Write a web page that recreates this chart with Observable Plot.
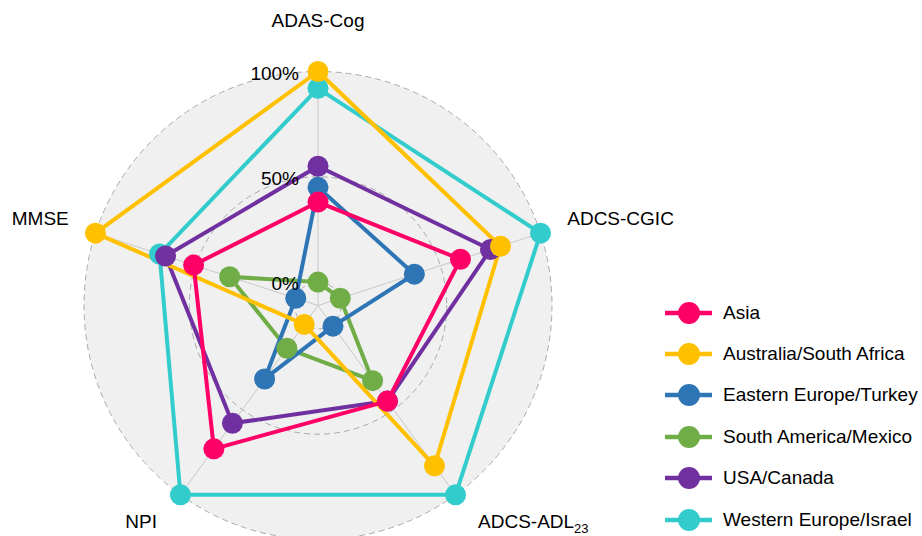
<!DOCTYPE html>
<html>
<head>
<meta charset="utf-8">
<script src="https://cdn.jsdelivr.net/npm/d3@7"></script>
<script src="https://cdn.jsdelivr.net/npm/@observablehq/plot@0.6"></script>
<style>
  body { margin: 0; background: white; font-family: "Liberation Sans", Arial, Helvetica, sans-serif; }
  #wrap { position: relative; width: 922px; height: 536px; }
  #legend { position: absolute; left: 665px; top: 292px; font-size: 19px; color: #000; }
  .row { display: flex; align-items: center; height: 41.4px; }
  .row span { margin-left: 10px; white-space: nowrap; }
</style>
</head>
<body>
<div id="wrap"><div id="legend"></div></div>
<script>
// ---- data ----
const regions = ["Asia", "Australia/South Africa", "Eastern Europe/Turkey", "South America/Mexico", "USA/Canada", "Western Europe/Israel"];
const colors = ["#FF0066", "#FFC000", "#2E75B6", "#70AD47", "#7030A0", "#33CCCC"];
const axes = ["ADAS-Cog", "ADCS-CGIC", "ADCS-ADL23", "NPI", "MMSE"];
const asia          = [0.38, 0.60, 0.45, 0.73, 0.51];
const australia     = [1.00, 0.80, 0.83, 0.00, 1.00];
const easternEurope = [0.45, 0.37, 0.01, 0.32, 0.00];
const southAmerica  = [0.00, 0.00, 0.33, 0.14, 0.33];
const usaCanada     = [0.55, 0.75, 0.45, 0.58, 0.65];
const westernEurope = [0.92, 1.00, 1.00, 1.00, 0.68];
const gridValues = [0, 0.5, 1];
const gridLabels = ["0%", "50%", "100%"];

const seriesValues = [asia, australia, easternEurope, southAmerica, usaCanada, westernEurope];

// ---- layout ----
const W = 922, H = 536;
const S = 234;          // px per unit radius
const CX = 317.5, CY = 305;
const rad = v => 0.1 + 0.9 * v;   // radial offset like ggradar (centre at -1/9)
const ang = i => i * 2 * Math.PI / axes.length;

// long table, drawn in reverse order (last region at bottom)
const table = [];
for (let s = regions.length - 1; s >= 0; s--) {
  seriesValues[s].forEach((v, i) => {
    table.push({region: regions[s], axis: axes[i], value: v,
      x: rad(v) * Math.sin(ang(i)), y: rad(v) * Math.cos(ang(i))});
  });
}
const axisTable = axes.map((a, i) => ({axis: a, sx: Math.sin(ang(i)), sy: Math.cos(ang(i))}));
const centre = [{x: 0, y: 0}];
const LR = 1.12;

const font = '"Liberation Sans", Arial, Helvetica, sans-serif';

const labelMark = (name, anchor, dx, dy) => Plot.text(axisTable.filter(d => d.axis === name), {
  x: d => d.sx * LR, y: d => d.sy * LR, text: "axis", textAnchor: anchor, dx, dy,
  fontSize: 19, fill: "black"
});

const plot = Plot.plot({
  width: W, height: H,
  marginTop: 0, marginRight: 0, marginBottom: 0, marginLeft: 0,
  x: {domain: [-CX / S, (W - CX) / S], axis: null},
  y: {domain: [-(H - CY) / S, CY / S], axis: null},
  color: {domain: regions, range: colors},
  style: {fontFamily: font, fontSize: "19px", background: "white", overflow: "visible"},
  marks: [
    Plot.dot(centre, {x: "x", y: "y", r: S * rad(1), fill: "#F0F0F0", stroke: "none"}),
    ...gridValues.map(v => Plot.dot(centre, {x: "x", y: "y", r: S * rad(v), fill: "none",
      stroke: "#AAAAAA", strokeWidth: 1, strokeDasharray: "6,4"})),
    Plot.link(axisTable, {x1: 0, y1: 0, x2: d => d.sx * rad(1), y2: d => d.sy * rad(1),
      stroke: "#C4C4C4", strokeWidth: 0.9}),
    Plot.line(table, {x: "x", y: "y", z: "region", stroke: "region", strokeWidth: 4,
      curve: "linear-closed", strokeLinejoin: "round"}),
    Plot.dot(table, {x: "x", y: "y", fill: "region", r: 10.5, stroke: "none"}),
    Plot.text(gridValues, {x: 0, y: v => rad(v), text: (d, i) => gridLabels[i],
      textAnchor: "end", dx: -19, dy: 2, fontSize: 19, fill: "black"}),
    labelMark("ADAS-Cog", "middle", 0, -23),
    labelMark("ADCS-CGIC", "start", 0, -6),
    labelMark("MMSE", "end", 0, -6),
    labelMark("ADCS-ADL23", "start", 6, 4),
    labelMark("NPI", "end", -7, 4)
  ]
});

// subscript for ADCS-ADL23
plot.querySelectorAll("text").forEach(t => {
  if (t.textContent === "ADCS-ADL23") {
    t.innerHTML = 'ADCS-ADL<tspan font-size="13" dy="5">23</tspan>';
  }
});

const wrap = document.getElementById("wrap");
wrap.insertBefore(plot, wrap.firstChild);

// legend
const legend = document.getElementById("legend");
regions.forEach((r, i) => {
  const row = document.createElement("div");
  row.className = "row";
  row.innerHTML = `<svg width="48" height="24"><line x1="0" y1="12" x2="47" y2="12" stroke="${colors[i]}" stroke-width="4.5"/><circle cx="24" cy="12" r="11" fill="${colors[i]}"/></svg><span>${r}</span>`;
  legend.appendChild(row);
});
</script>
</body>
</html>
